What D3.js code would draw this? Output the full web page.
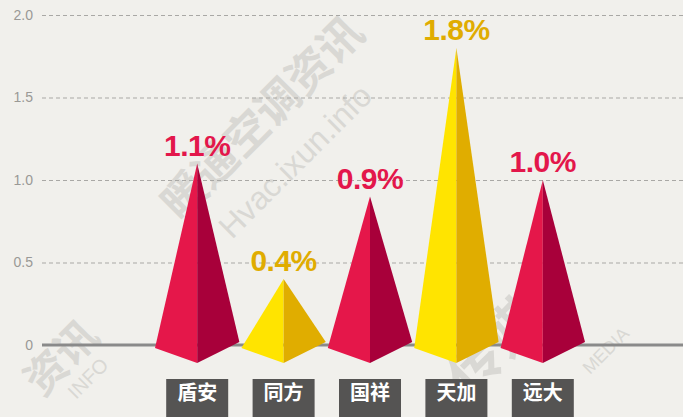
<!DOCTYPE html>
<html>
<head>
<meta charset="utf-8">
<script src="https://cdn.jsdelivr.net/npm/d3@7"></script>
<style>
	html, body { margin: 0; padding: 0; background: #f1f0ec; }
	svg { display: block; font-family: "Liberation Sans", Arial, sans-serif; }
</style>
</head>
<body>
<div id="chart"></div>
<script>
const categories = ["盾安", "同方", "国祥", "天加", "远大"];
const values = [1.1, 0.4, 0.9, 1.8, 1.0];
const valueLabels = ["1.1%", "0.4%", "0.9%", "1.8%", "1.0%"];
const highlight = [false, true, false, true, false]; // yellow pyramids
const yTicks = [0, 0.5, 1.0, 1.5, 2.0];
const yTickLabels = ["0", "0.5", "1.0", "1.5", "2.0"];

const W = 683, H = 417;
const margins = { L: 42, R: 0, T: 15, B: 72 };

const COLORS = {
	red: { left: "#e5174a", right: "#a8003a", text: "#e3174b" },
	yellow: { left: "#ffe400", right: "#e0ad00", text: "#e0ac00" }
};

const svg = d3.select("#chart").append("svg")
	.attr("width", W)
	.attr("height", H);

svg.append("rect").attr("width", W).attr("height", H).attr("fill", "#f1f0ec");

// watermarks (kept inside the canvas)
const wm = svg.append("g").attr("fill", "#d9d8d4");
wm.append("text")
	.attr("transform", "translate(180,222) rotate(-45)")
	.attr("font-family", "Noto Sans CJK SC")
	.attr("font-weight", "bold")
	.attr("font-size", 44)
	.text("暖通空调资讯");
wm.append("text")
	.attr("transform", "translate(232,240) rotate(-45)")
	.attr("font-size", 32)
	.text("Hvac.ixun.info");
wm.append("text")
	.attr("transform", "translate(42,398) rotate(-45)")
	.attr("font-family", "Noto Sans CJK SC")
	.attr("font-weight", "bold")
	.attr("font-size", 42)
	.text("资讯");
wm.append("text")
	.attr("transform", "translate(76,400) rotate(-45)")
	.attr("font-size", 20)
	.text("INFO");
wm.append("text")
	.attr("transform", "translate(470,398) rotate(-45)")
	.attr("font-family", "Noto Sans CJK SC")
	.attr("font-weight", "bold")
	.attr("font-size", 54)
	.text("传媒");
wm.append("text")
	.attr("transform", "translate(590,375) rotate(-45)")
	.attr("font-size", 18)
	.text("MEDIA");

const y = d3.scaleLinear()
	.domain([0, 2])
	.range([345, margins.T]);

const x = d3.scaleBand()
	.domain(categories)
	.range([154, 586])
	.paddingInner(0)
	.paddingOuter(0);

// grid
const yAxis = d3.axisLeft(y)
	.tickValues(yTicks)
	.tickFormat((d, i) => yTickLabels[i])
	.tickSize(-(W - margins.L))
	.tickPadding(9);

const axisG = svg.append("g")
	.attr("transform", "translate(" + margins.L + ",0)")
	.call(yAxis);
axisG.select(".domain").remove();
axisG.selectAll(".tick line")
	.attr("stroke", "#a9a8a5")
	.attr("stroke-dasharray", "4,3")
	.attr("stroke-width", 1);
axisG.selectAll(".tick text")
	.attr("fill", "#9a9996")
	.attr("font-size", 14);
axisG.selectAll(".tick").filter(d => d === 0).select("line").remove();

// zero line
svg.append("line")
	.attr("x1", margins.L).attr("x2", W)
	.attr("y1", y(0)).attr("y2", y(0))
	.attr("stroke", "#8a8a8a")
	.attr("stroke-width", 3);

// pyramids
const half = x.bandwidth() / 2;
const pyr = svg.selectAll(".pyramid")
	.data(values)
	.enter().append("g")
	.attr("class", "pyramid");

pyr.append("path")
	.attr("fill", (d, i) => highlight[i] ? COLORS.yellow.left : COLORS.red.left)
	.attr("d", (d, i) => {
		const cx = x(categories[i]) + half;
		return "M" + (cx - half + 1) + "," + (y(0) + 3) +
			"L" + cx + "," + y(d) +
			"L" + cx + "," + (y(0) + 18) + "Z";
	});

pyr.append("path")
	.attr("fill", (d, i) => highlight[i] ? COLORS.yellow.right : COLORS.red.right)
	.attr("d", (d, i) => {
		const cx = x(categories[i]) + half;
		return "M" + cx + "," + y(d) +
			"L" + (cx + half - 1) + "," + (y(0) - 3) +
			"L" + cx + "," + (y(0) + 18) + "Z";
	});

pyr.append("text")
	.attr("x", (d, i) => x(categories[i]) + half)
	.attr("y", d => y(d) - 8)
	.attr("text-anchor", "middle")
	.attr("font-size", 30)
	.attr("font-weight", "bold")
	.attr("letter-spacing", -0.5)
	.attr("fill", (d, i) => highlight[i] ? COLORS.yellow.text : COLORS.red.text)
	.text((d, i) => valueLabels[i]);

// category labels
const cat = svg.selectAll(".cat")
	.data(categories)
	.enter().append("g")
	.attr("class", "cat")
	.attr("transform", d => "translate(" + (x(d) + half) + ",379)");

cat.append("rect")
	.attr("x", -31).attr("y", 0)
	.attr("width", 62).attr("height", 45)
	.attr("fill", "#555453");

cat.append("text")
	.attr("y", 21)
	.attr("text-anchor", "middle")
	.attr("font-family", "Noto Sans CJK SC")
	.attr("font-size", 20)
	.attr("font-weight", "bold")
	.attr("fill", "#ffffff")
	.text(d => d);
</script>
</body>
</html>
